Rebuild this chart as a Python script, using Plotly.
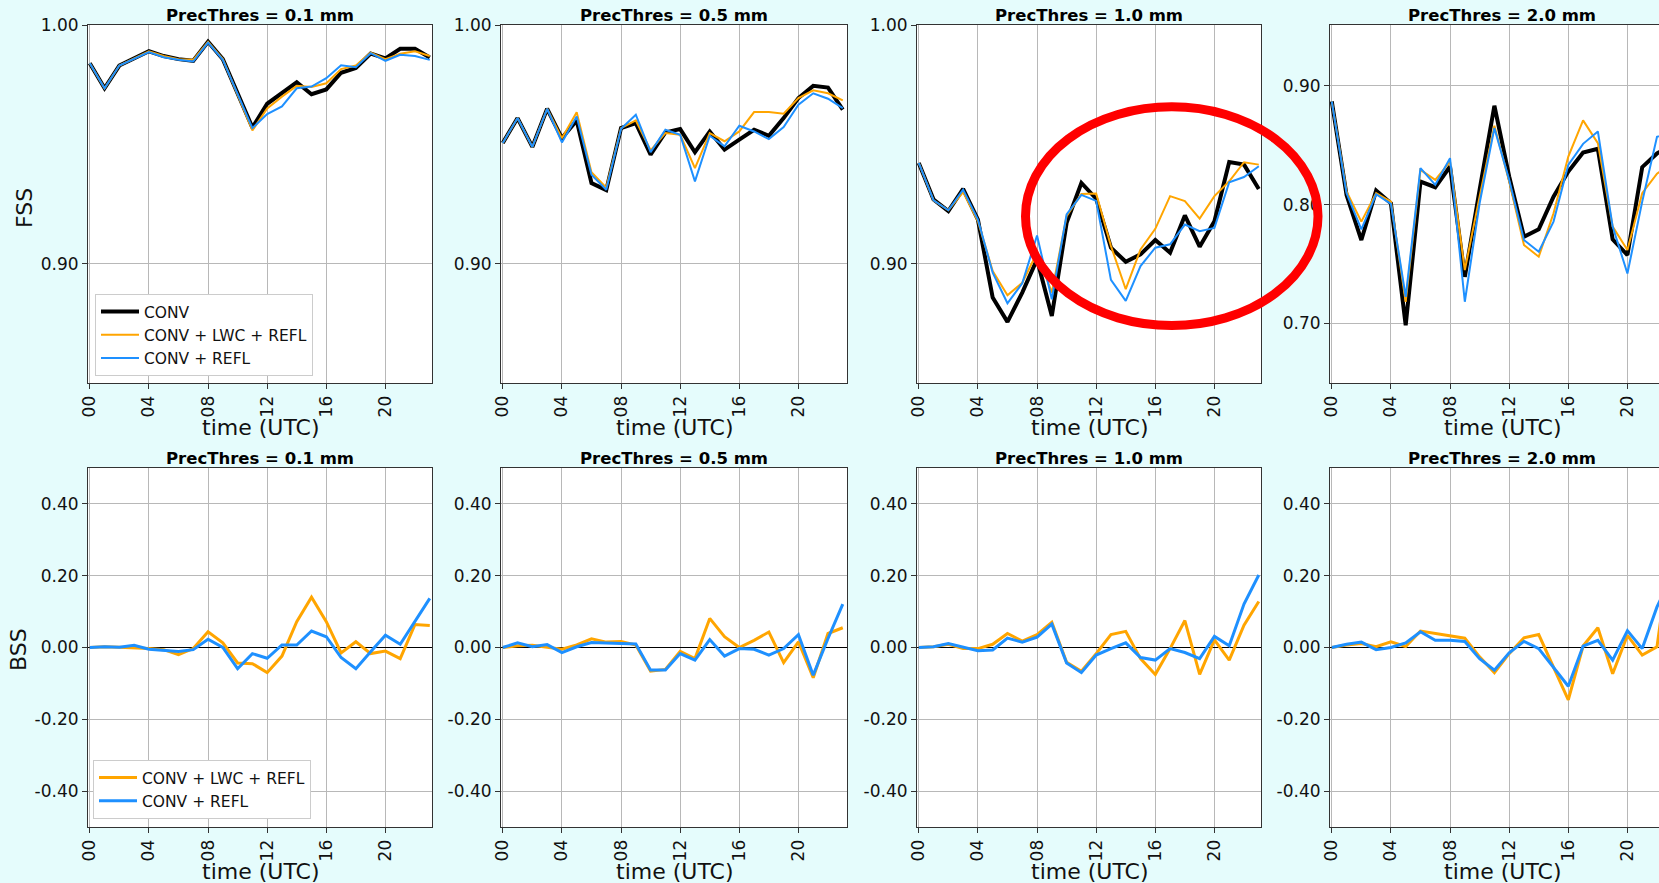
import plotly.graph_objects as go

# ---------------- data ----------------
hours = list(range(24))
xtick_vals = [0, 4, 8, 12, 16, 20]
xtick_text = ["00", "04", "08", "12", "16", "20"]
thresholds = ["0.1", "0.5", "1.0", "2.0"]
series_names = ["CONV", "CONV + LWC + REFL", "CONV + REFL"]

fss_conv_01 = [0.984, 0.9735, 0.983, 0.986, 0.989, 0.987, 0.9857, 0.985, 0.993, 0.9857, 0.9715, 0.957,
               0.967, 0.9715, 0.976, 0.971, 0.973, 0.980, 0.982, 0.988, 0.986, 0.990, 0.990, 0.9864]
fss_lwc_01 = [0.984, 0.9735, 0.983, 0.986, 0.989, 0.987, 0.9857, 0.9854, 0.993, 0.9857, 0.971, 0.9558,
              0.965, 0.970, 0.9745, 0.974, 0.9756, 0.9815, 0.983, 0.9884, 0.9857, 0.988, 0.989, 0.987]
fss_refl_01 = [0.984, 0.9735, 0.983, 0.986, 0.9887, 0.9865, 0.9854, 0.9847, 0.9926, 0.9854, 0.9708, 0.9568,
               0.9627, 0.9659, 0.9735, 0.9742, 0.9777, 0.9831, 0.9823, 0.9882, 0.985, 0.9875, 0.987, 0.9854]

fss_conv_05 = [0.9506, 0.961, 0.9489, 0.9649, 0.9526, 0.960, 0.9338, 0.9308, 0.9568, 0.9589, 0.9457, 0.955,
               0.9564, 0.9467, 0.9554, 0.9478, 0.952, 0.9561, 0.9536, 0.961, 0.9694, 0.9745, 0.9738, 0.9645]
fss_lwc_05 = [0.9506, 0.961, 0.9489, 0.9649, 0.9526, 0.9634, 0.9383, 0.9318, 0.9568, 0.960, 0.9475, 0.9547,
              0.954, 0.940, 0.9547, 0.9513, 0.9554, 0.9635, 0.9635, 0.9628, 0.9694, 0.9726, 0.9714, 0.9684]
fss_refl_05 = [0.9506, 0.961, 0.9489, 0.9649, 0.9508, 0.9617, 0.9373, 0.931, 0.9565, 0.9624, 0.9467, 0.9561,
               0.954, 0.9345, 0.9536, 0.9492, 0.9578, 0.9554, 0.9522, 0.9572, 0.9666, 0.9714, 0.9691, 0.9652]

fss_conv_10 = [0.9422, 0.9269, 0.922, 0.9313, 0.9185, 0.8858, 0.8756, 0.8879, 0.9018, 0.8781, 0.9171, 0.9338,
               0.9272, 0.9067, 0.9008, 0.9039, 0.9099, 0.9046, 0.9202, 0.9071, 0.9178, 0.9426, 0.9415, 0.9313]
fss_lwc_10 = [0.9422, 0.9265, 0.9224, 0.930, 0.9178, 0.8969, 0.8868, 0.892, 0.9046, 0.8879, 0.9199, 0.9292,
              0.9294, 0.9074, 0.8893, 0.906, 0.9146, 0.9283, 0.9262, 0.9189, 0.9283, 0.9345, 0.9425, 0.9415]
fss_refl_10 = [0.9422, 0.9265, 0.9224, 0.931, 0.9185, 0.8962, 0.8834, 0.8918, 0.9118, 0.8851, 0.9206, 0.9288,
               0.9263, 0.8932, 0.8844, 0.899, 0.9067, 0.9081, 0.9164, 0.9136, 0.915, 0.9341, 0.9363, 0.9408]

fss_conv_20 = [0.8868, 0.8081, 0.7702, 0.8118, 0.8011, 0.6986, 0.8194, 0.8146, 0.832, 0.7393, 0.8124, 0.8831,
               0.8236, 0.773, 0.7792, 0.8067, 0.8278, 0.8438, 0.8469, 0.7708, 0.7576, 0.8315, 0.843, 0.850]
fss_lwc_20 = [0.8868, 0.811, 0.7857, 0.8096, 0.8025, 0.7183, 0.8292, 0.8208, 0.8362, 0.745, 0.8067, 0.8663,
              0.8194, 0.766, 0.7562, 0.7927, 0.8404, 0.8708, 0.8517, 0.7815, 0.7618, 0.8096, 0.826, 0.835]
fss_refl_20 = [0.8868, 0.8096, 0.7792, 0.8087, 0.8006, 0.7225, 0.8306, 0.8166, 0.839, 0.7183, 0.8011, 0.8643,
               0.8208, 0.7702, 0.7604, 0.7857, 0.8334, 0.8511, 0.8615, 0.7815, 0.7421, 0.8025, 0.857, 0.860]

bss_lwc_01 = [0.0, 0.002, 0.001, 0.0, -0.003, -0.006, -0.020, -0.003, 0.044, 0.013, -0.043, -0.045,
              -0.070, -0.024, 0.072, 0.140, 0.072, -0.015, 0.016, -0.017, -0.010, -0.031, 0.064, 0.061]
bss_refl_01 = [0.0, 0.002, 0.001, 0.006, -0.005, -0.007, -0.011, -0.006, 0.023, 0.0, -0.059, -0.017,
               -0.030, 0.007, 0.007, 0.046, 0.030, -0.028, -0.059, -0.012, 0.034, 0.009, 0.072, 0.137]

bss_lwc_05 = [0.0, 0.005, 0.006, 0.0, -0.005, 0.007, 0.024, 0.015, 0.017, 0.007, -0.066, -0.061,
              -0.011, -0.031, 0.081, 0.030, 0.0, 0.020, 0.043, -0.042, 0.016, -0.084, 0.039, 0.055]
bss_refl_05 = [0.0, 0.013, 0.002, 0.008, -0.014, 0.002, 0.014, 0.013, 0.013, 0.010, -0.063, -0.063,
               -0.017, -0.035, 0.022, -0.024, -0.003, -0.005, -0.021, -0.003, 0.036, -0.077, 0.025, 0.121]

bss_lwc_10 = [0.0, 0.002, 0.009, -0.003, -0.003, 0.009, 0.039, 0.018, 0.036, 0.070, -0.041, -0.066,
              -0.017, 0.036, 0.045, -0.031, -0.075, -0.003, 0.075, -0.075, 0.021, -0.035, 0.062, 0.128]
bss_refl_10 = [0.0, 0.002, 0.011, 0.002, -0.009, -0.007, 0.026, 0.015, 0.029, 0.065, -0.043, -0.070,
               -0.021, -0.003, 0.013, -0.028, -0.035, -0.003, -0.014, -0.031, 0.031, 0.005, 0.121, 0.202]

bss_lwc_20 = [0.0, 0.007, 0.011, 0.002, 0.016, 0.003, 0.046, 0.039, 0.032, 0.026, -0.026, -0.070,
              -0.017, 0.027, 0.036, -0.054, -0.146, 0.004, 0.055, -0.073, 0.034, -0.021, 0.002, 0.300]
bss_refl_20 = [0.0, 0.009, 0.015, -0.006, 0.0, 0.013, 0.044, 0.020, 0.020, 0.017, -0.031, -0.063,
               -0.015, 0.017, -0.003, -0.054, -0.108, 0.004, 0.020, -0.035, 0.047, -0.003, 0.113, 0.200]

fss_ticks_std = [0.90, 1.00]
fss_ticks_20 = [0.70, 0.80, 0.90]
bss_tick_vals = [-0.40, -0.20, 0.0, 0.20, 0.40]
bss_tick_text = ["-0.40", "-0.20", "0.00", "0.20", "0.40"]

fss_data = [
    (fss_conv_01, fss_lwc_01, fss_refl_01),
    (fss_conv_05, fss_lwc_05, fss_refl_05),
    (fss_conv_10, fss_lwc_10, fss_refl_10),
    (fss_conv_20, fss_lwc_20, fss_refl_20),
]
bss_data = [
    (bss_lwc_01, bss_refl_01),
    (bss_lwc_05, bss_refl_05),
    (bss_lwc_10, bss_refl_10),
    (bss_lwc_20, bss_refl_20),
]

# ---------------- layout geometry (pixels) ----------------
W, H = 1659, 883
BG = "#E5FCFC"
FONT = "DejaVu Sans"
COL_X = [(88, 432), (501, 847), (917, 1261), (1330, 1674)]
ROW_Y = [(25, 383), (468, 827)]
PX_PER_H = 344 / 23.27
X0 = -0.12


def fx(px):
    return px / W


def fy(py):
    return 1 - py / H


C_CONV, C_LWC, C_REFL = "black", "orange", "dodgerblue"
fig = go.Figure()
layout_axes = {}
annotations = []


def axis_style():
    return dict(showline=True, linecolor="#333333", linewidth=1, ticks="outside", ticklen=5,
                tickcolor="#333333", tickwidth=1, showgrid=True, gridcolor="#b8b8b8", gridwidth=1,
                tickfont=dict(family=FONT, size=17, color="#111111"), zeroline=False,
                automargin=False)


for r in range(2):
    for c in range(4):
        k = r * 4 + c + 1
        xa = "x" if k == 1 else f"x{k}"
        ya = "y" if k == 1 else f"y{k}"
        xl, xr = COL_X[c]
        xr_vis = min(xr, W)
        yt, yb = ROW_Y[r]
        x_hi = X0 + (xr_vis - xl) / PX_PER_H
        xax = axis_style()
        xax.update(domain=[fx(xl), fx(xr_vis)], range=[X0, x_hi], anchor=ya,
                   tickmode="array", tickvals=xtick_vals, ticktext=xtick_text, tickangle=-90,
                   mirror=True)
        yax = axis_style()
        yax.update(domain=[fy(yb), fy(yt)], anchor=xa, mirror=(c < 3))
        if r == 0:
            if c < 3:
                yax.update(range=[0.85, 1.00], tickmode="array", tickvals=fss_ticks_std,
                           tickformat=".2f")
            else:
                yax.update(range=[0.65, 0.951], tickmode="array", tickvals=fss_ticks_20,
                           tickformat=".2f")
        else:
            yax.update(range=[-0.5, 0.5], tickmode="array", tickvals=bss_tick_vals,
                       ticktext=bss_tick_text, zeroline=True, zerolinecolor="black",
                       zerolinewidth=1)
        layout_axes["xaxis" if k == 1 else f"xaxis{k}"] = xax
        layout_axes["yaxis" if k == 1 else f"yaxis{k}"] = yax

        # traces
        if r == 0:
            conv, lwc, refl = fss_data[c]
            fig.add_trace(go.Scatter(x=hours, y=conv, mode="lines", name=series_names[0],
                                     line=dict(color=C_CONV, width=4), xaxis=xa, yaxis=ya,
                                     showlegend=(c == 0), legend="legend"))
            fig.add_trace(go.Scatter(x=hours, y=lwc, mode="lines", name=series_names[1],
                                     line=dict(color=C_LWC, width=2), xaxis=xa, yaxis=ya,
                                     showlegend=(c == 0), legend="legend"))
            fig.add_trace(go.Scatter(x=hours, y=refl, mode="lines", name=series_names[2],
                                     line=dict(color=C_REFL, width=2), xaxis=xa, yaxis=ya,
                                     showlegend=(c == 0), legend="legend"))
        else:
            lwc, refl = bss_data[c]
            fig.add_trace(go.Scatter(x=hours, y=lwc, mode="lines", name=series_names[1],
                                     line=dict(color=C_LWC, width=3), xaxis=xa, yaxis=ya,
                                     showlegend=(c == 0), legend="legend2"))
            fig.add_trace(go.Scatter(x=hours, y=refl, mode="lines", name=series_names[2],
                                     line=dict(color=C_REFL, width=3), xaxis=xa, yaxis=ya,
                                     showlegend=(c == 0), legend="legend2"))

        # panel title
        annotations.append(dict(text=f"<b>PrecThres = {thresholds[c]} mm</b>", xref="paper", yref="paper",
                                x=fx((xl + xr) / 2), y=fy(yt - 9), xanchor="center", yanchor="middle",
                                showarrow=False, font=dict(family=FONT, size=16.5, color="black")))
        # x axis title
        annotations.append(dict(text="time (UTC)", xref="paper", yref="paper",
                                x=fx((xl + xr) / 2), y=fy(yb + 44), xanchor="center", yanchor="middle",
                                showarrow=False, font=dict(family=FONT, size=22, color="#111111")))

annotations.append(dict(text="FSS", xref="paper", yref="paper", x=fx(24), y=fy(208), textangle=-90,
                        xanchor="center", yanchor="middle", showarrow=False,
                        font=dict(family=FONT, size=22, color="#111111")))
annotations.append(dict(text="BSS", xref="paper", yref="paper", x=fx(18), y=fy(650), textangle=-90,
                        xanchor="center", yanchor="middle", showarrow=False,
                        font=dict(family=FONT, size=22, color="#111111")))

fig.update_layout(
    width=W, height=H, margin=dict(l=0, r=0, t=0, b=0, pad=0, autoexpand=False),
    paper_bgcolor=BG, plot_bgcolor="white",
    annotations=annotations,
    legend=dict(x=fx(95), y=fy(376), xanchor="left", yanchor="bottom", bgcolor="white",
                bordercolor="#cccccc", borderwidth=1, font=dict(family=FONT, size=15.5, color="#111111"),
                itemwidth=38, tracegroupgap=0),
    legend2=dict(x=fx(93), y=fy(819), xanchor="left", yanchor="bottom", bgcolor="white",
                 bordercolor="#cccccc", borderwidth=1, font=dict(family=FONT, size=15.5, color="#111111"),
                 itemwidth=38, tracegroupgap=0),
    shapes=[dict(type="circle", xref="paper", yref="paper", layer="above",
                 x0=fx(1025.5), x1=fx(1318), y0=fy(325.5), y1=fy(106.8),
                 line=dict(color="#FF0000", width=9))],
    font=dict(family=FONT),
    **layout_axes,
)

page_fix = ("document.documentElement.style.margin='0';document.documentElement.style.padding='0';"
            "document.body.style.margin='0';document.body.style.padding='0';"
            "document.body.style.overflow='hidden';document.body.style.background='" + BG + "';")
fig.write_html("out.html", post_script=page_fix, config={"displayModeBar": False})
